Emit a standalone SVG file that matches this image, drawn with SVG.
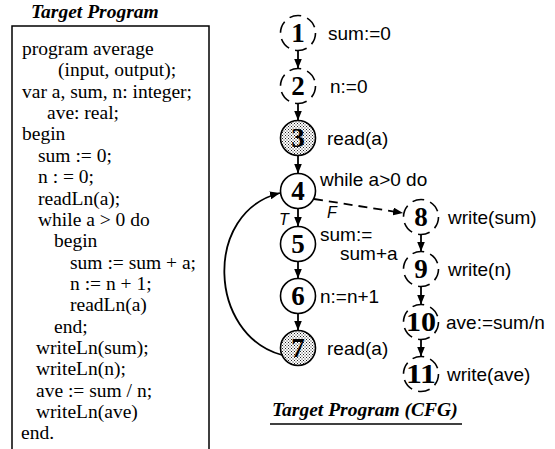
<svg xmlns="http://www.w3.org/2000/svg" width="555" height="449" viewBox="0 0 555 449">
  <style>
    .code { font-family: "Liberation Serif", "Times New Roman", serif; font-size: 19.5px; fill: #000; }
    .title { font-family: "Liberation Serif", "Times New Roman", serif; font-size: 19.5px; font-weight: bold; font-style: italic; fill: #000; }
    .lbl { font-family: "Liberation Sans", Arial, sans-serif; font-size: 19px; fill: #000; }
    .tf { font-family: "Liberation Sans", Arial, sans-serif; font-size: 16px; font-style: italic; fill: #000; }
    .num { font-family: "Liberation Serif", "Times New Roman", serif; font-size: 27px; font-weight: bold; fill: #000; text-anchor: middle; }
    .node { fill: #fff; stroke: #000; stroke-width: 1.6; }
    .dashed { stroke-dasharray: 12 6.3; }
    .shaded { fill: url(#stipple); }
    .edge { fill: none; stroke: #000; stroke-width: 1.8; }
    .edge-f { fill: none; stroke: #000; stroke-width: 1.8; stroke-dasharray: 9 6; }
    .box { fill: none; stroke: #000; stroke-width: 1.5; }
  </style>
  <defs>
    <pattern id="stipple" width="3" height="3" patternUnits="userSpaceOnUse">
      <rect width="3" height="3" fill="#fff"/>
      <rect x="0" y="0" width="1" height="1" fill="#222"/>
      <rect x="1.5" y="1.5" width="1" height="1" fill="#222"/>
    </pattern>
    <marker id="arrow" markerUnits="userSpaceOnUse" markerWidth="10" markerHeight="8" refX="10" refY="4" orient="auto">
      <path d="M0,0 L10,4 L0,8 z" fill="#000"/>
    </marker>
  </defs>

  <!-- source listing panel -->
  <g id="program">
    <text class="title" x="31" y="18">Target Program</text>
    <path class="box" d="M12,449 V26 H209 V449"/>
    <text class="code" x="22" y="55">program average</text>
    <text class="code" x="58" y="76.4">(input, output);</text>
    <text class="code" x="22" y="97.7">var a, sum, n: integer;</text>
    <text class="code" x="47" y="119">ave: real;</text>
    <text class="code" x="22" y="140.4">begin</text>
    <text class="code" x="38" y="161.8">sum := 0;</text>
    <text class="code" x="38" y="183.1">n : = 0;</text>
    <text class="code" x="38" y="204.5">readLn(a);</text>
    <text class="code" x="38" y="225.8">while a &gt; 0 do</text>
    <text class="code" x="54" y="247.2">begin</text>
    <text class="code" x="70" y="268.5">sum := sum + a;</text>
    <text class="code" x="70" y="289.9">n := n + 1;</text>
    <text class="code" x="70" y="311.2">readLn(a)</text>
    <text class="code" x="54" y="332.6">end;</text>
    <text class="code" x="36" y="353.9">writeLn(sum);</text>
    <text class="code" x="36" y="375.3">writeLn(n);</text>
    <text class="code" x="36" y="396.6">ave := sum / n;</text>
    <text class="code" x="36" y="418">writeLn(ave)</text>
    <text class="code" x="21" y="439.3">end.</text>
  </g>

  <!-- control flow edges -->
  <g id="edges">
    <line class="edge" x1="298" y1="50.5" x2="298" y2="68.5" marker-end="url(#arrow)"/>
    <line class="edge" x1="298" y1="103.5" x2="298" y2="120.5" marker-end="url(#arrow)"/>
    <line class="edge" x1="298" y1="155.5" x2="298" y2="173.5" marker-end="url(#arrow)"/>
    <line class="edge" x1="298" y1="208.5" x2="298" y2="226.5" marker-end="url(#arrow)"/>
    <line class="edge" x1="298" y1="261.5" x2="298" y2="278.5" marker-end="url(#arrow)"/>
    <line class="edge" x1="298" y1="313.5" x2="298" y2="330.5" marker-end="url(#arrow)"/>
    <path class="edge" d="M282,355 C208,335 203,212 280,193" marker-end="url(#arrow)"/>
    <path class="edge-f" d="M314,199 L403,213" marker-end="url(#arrow)"/>
    <line class="edge" x1="421" y1="234.5" x2="421" y2="251.5" marker-end="url(#arrow)"/>
    <line class="edge" x1="421" y1="286.5" x2="421" y2="304.5" marker-end="url(#arrow)"/>
    <line class="edge" x1="421" y1="339.5" x2="421" y2="356.5" marker-end="url(#arrow)"/>
    <text class="tf" x="279" y="225">T</text>
    <text class="tf" x="327" y="218">F</text>
  </g>

  <g id="n1">
    <circle class="node dashed" cx="298" cy="33" r="17.5"/>
    <text class="num" x="298" y="42">1</text>
    <text class="lbl" x="328" y="40">sum:=0</text>
  </g>
  <g id="n2">
    <circle class="node dashed" cx="298" cy="86" r="17.5"/>
    <text class="num" x="298" y="95">2</text>
    <text class="lbl" x="330" y="93">n:=0</text>
  </g>
  <g id="n3">
    <circle class="node shaded" cx="298" cy="138" r="17.5"/>
    <text class="num" x="298" y="147">3</text>
    <text class="lbl" x="327" y="145">read(a)</text>
  </g>
  <g id="n4">
    <circle class="node" cx="298" cy="191" r="17.5"/>
    <text class="num" x="298" y="200">4</text>
    <text class="lbl" x="320" y="186">while a&gt;0 do</text>
  </g>
  <g id="n5">
    <circle class="node" cx="298" cy="244" r="17.5"/>
    <text class="num" x="298" y="253">5</text>
    <text class="lbl" x="320" y="241">sum:=</text>
    <text class="lbl" x="340" y="260">sum+a</text>
  </g>
  <g id="n6">
    <circle class="node" cx="298" cy="296" r="17.5"/>
    <text class="num" x="298" y="305">6</text>
    <text class="lbl" x="320" y="303">n:=n+1</text>
  </g>
  <g id="n7">
    <circle class="node shaded" cx="298" cy="348" r="17.5"/>
    <text class="num" x="298" y="357">7</text>
    <text class="lbl" x="327" y="355">read(a)</text>
  </g>
  <g id="n8">
    <circle class="node dashed" cx="421" cy="217" r="17.5"/>
    <text class="num" x="421" y="226">8</text>
    <text class="lbl" x="448" y="224">write(sum)</text>
  </g>
  <g id="n9">
    <circle class="node dashed" cx="421" cy="269" r="17.5"/>
    <text class="num" x="421" y="278">9</text>
    <text class="lbl" x="448" y="276">write(n)</text>
  </g>
  <g id="n10">
    <circle class="node dashed" cx="421" cy="322" r="17.5"/>
    <text class="num" x="421" y="331" textLength="30" lengthAdjust="spacingAndGlyphs">10</text>
    <text class="lbl" x="446" y="329">ave:=sum/n</text>
  </g>
  <g id="n11">
    <circle class="node dashed" cx="421" cy="374" r="17.5"/>
    <text class="num" x="421" y="383" textLength="30" lengthAdjust="spacingAndGlyphs">11</text>
    <text class="lbl" x="447" y="381">write(ave)</text>
  </g>

  <!-- caption under the graph -->
  <g id="cfg-title">
    <text class="title" x="272" y="416">Target Program (CFG)</text>
    <line x1="270" y1="424" x2="462" y2="424" stroke="#000" stroke-width="1.5"/>
  </g>
</svg>
